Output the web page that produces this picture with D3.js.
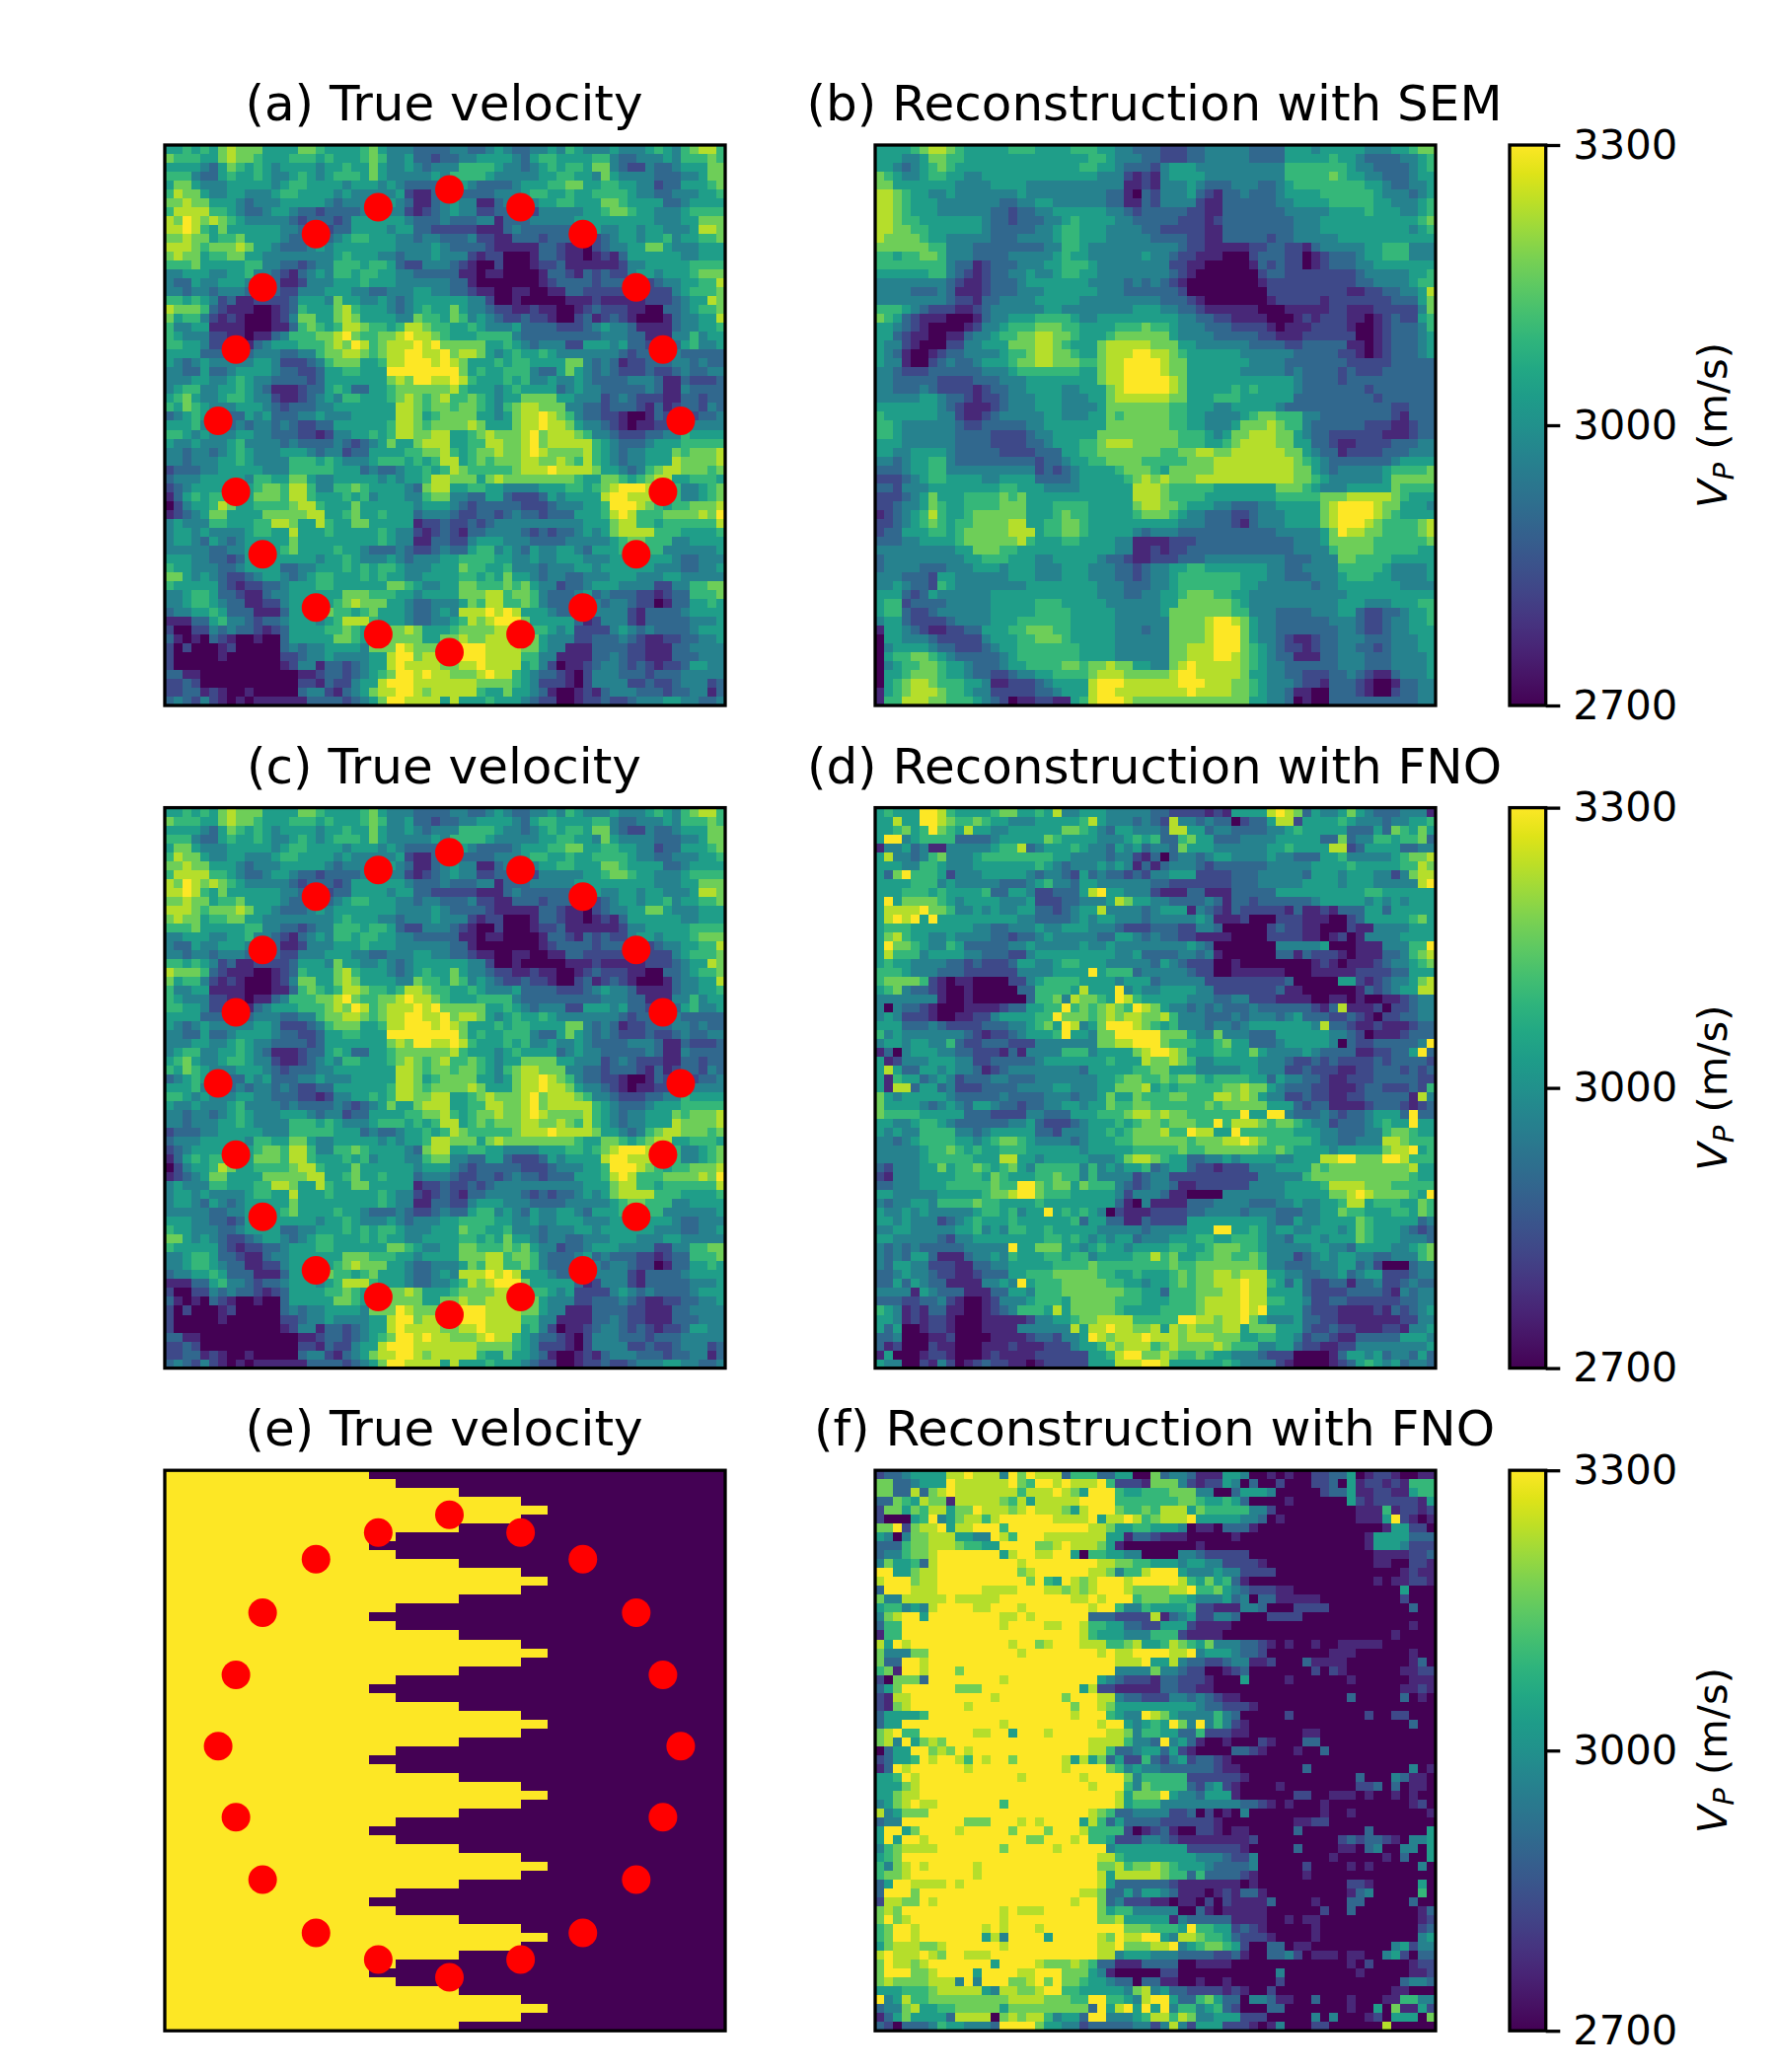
<!DOCTYPE html>
<html>
<head>
<meta charset="utf-8">
<script src="https://cdn.jsdelivr.net/npm/d3@7"></script>
<style>
  body { margin: 0; background: white; }
  text { font-family: "DejaVu Sans", sans-serif; fill: black; }
</style>
</head>
<body>
<div id="chart"></div>
<script>
// Velocity per cell, as levels 0-9 (0 = 2700 m/s, 9 = 3300 m/s)
const trueVelocityRows = [
"556565787 775555776 555567544 433334433 454334454 654445444 565467886",
"766655787 765556665 655567644 533233445 555435665 555664334 445466676",
"555543576 565455554 556557544 543444666 654434565 665774322 433455577",
"666433565 565445654 566657544 444546666 544444556 655475444 433344577",
"577544455 555456655 554555454 333334543 333455566 775566554 423355567",
"687754455 444566555 545444445 211333333 344456655 655666654 433444556",
"778775554 344455555 434444454 311345441 134444556 655577655 553345555",
"688886654 334554332 333344544 212345442 233332444 445567765 544456666",
"879878765 444443233 323555555 433343334 413334444 455555555 544455777",
"889865755 555544333 233555545 533222221 113433333 344544554 554445887",
"778775667 555543333 345665554 434433342 211333233 332234554 556455667",
"888767778 755433345 455555554 444543333 211111332 110234455 775444555",
"787756677 554444444 456555443 444544421 220001332 110121355 555544555",
"666755555 664433234 466656653 224443210 020001223 111111244 555556666",
"445554455 644321345 466566554 433333110 110000133 213232245 545556777",
"433544555 433311244 455565554 444443310 000000123 333233333 234455668",
"443443444 333322444 555443344 455443321 100110011 332222222 222456667",
"665654231 122223555 475544543 455555544 200100000 111211111 222345587",
"877763211 100123655 578655543 456557544 322112110 012322211 003345667",
"756642121 000124775 578755554 476657645 432232210 023123210 001344558",
"644551111 000113676 568876656 887665565 444533332 223454431 111344556",
"654442211 011346667 789766778 988765556 666433333 333344433 111446455",
"665542221 134555666 787986788 898977777 556543444 225554533 222356445",
"555533333 344433446 778876788 998897887 545655654 444444323 333433333",
"543454444 455422234 677755688 999898755 565665555 774343122 333443433",
"443353345 555433223 556655599 999999756 556664335 754343222 322343344",
"444554456 544333323 555555578 799889865 556564454 454333344 431132223",
"456644556 543111233 565335567 777778655 545655553 454433333 431143333",
"567544566 544211234 546655567 876786676 545577775 544423432 221133233",
"657654445 554323334 455555558 876776776 546788777 443323332 131233243",
"345654333 545333445 444555558 875677775 545788987 643322100 132222334",
"555644334 344343223 355555568 876777787 555788988 754432101 122224444",
"665454445 544333221 244556568 877885567 877789788 876443222 334465555",
"544544456 444434333 343234575 578885566 887789788 888654333 455566666",
"443443456 544455543 442335555 667786567 787789877 778654344 555767778",
"443444556 544446665 654445666 565688567 677788778 768654344 555877778",
"233344555 554446666 655534334 556568766 666788898 888755434 678877767",
"344455555 466557754 455555454 556887775 787777777 765577656 788556665",
"234555555 567768864 466765555 437885566 554444555 665678999 888644567",
"135656666 577768865 556564555 446774433 553222354 555589988 888644567",
"024556875 566667886 555755555 545554323 333322234 445569998 765667778",
"123457755 557777788 556755655 534443223 323433233 355568986 667777879",
"454446655 566887558 655775555 512232232 344444444 445557886 656666668",
"455454444 566558555 655555654 421232133 444432323 345457888 866655556",
"455435434 555557555 555555654 411332245 554443333 444445677 666445555",
"444443344 555567555 565543334 322343356 645435445 543555666 664444445",
"555443323 555555554 556544454 344455666 655445445 554445555 555433444",
"655444334 555533445 556565665 444555766 556444344 455455555 544433445",
"775454322 345543456 655565655 445555665 657554344 334445554 445544444",
"655555321 223345556 655555577 654455776 667675442 334555444 422446677",
"445665332 113445555 557776665 545555777 886776433 345343332 212336667",
"445665433 112245555 567877755 433444576 886676433 334434432 201335565",
"344556533 311135555 766567555 433454888 989855543 312444421 333345555",
"111335644 323345554 568886555 433445687 899975555 531244421 333334445",
"200224343 321235555 667657777 875556777 788886654 522224543 433334555",
"310103210 010035555 577657777 775577877 888887544 422333432 112233445",
"202000120 000034344 555547779 877778999 888877544 111333322 111334444",
"200000100 000022344 544445589 978888999 888866441 111334322 111333444",
"200000000 000012441 332345589 888877889 888856420 112344323 212235544",
"331100000 000000112 332345679 989887778 988654332 102444333 233344444",
"223200000 000000221 322455899 988888887 777654222 102444422 322344423",
"223312100 100000344 213457889 987888886 557554310 012134443 332334413",
"343242101 011111133 332345799 888858555 655543220 012232234 445544334"
];

const semRows = [
"555567887 655555666 555566655 443332223 344444333 355545555 544455677",
"555445776 655555555 555555665 444332223 344444333 355555655 433334456",
"554345676 555555555 555556655 433324555 444444444 466666665 443333456",
"765445665 544555555 555555544 421214555 544444444 466666765 544333455",
"775555555 444455554 444444444 411214445 433344433 456666666 655433445",
"887655445 444444454 444444443 310324445 321334333 455556666 665444345",
"887655544 444443344 554444443 311324444 211333333 445555666 665544456",
"887655544 444433233 445555554 432333332 211333333 344444555 565554456",
"887665555 555433233 344565555 443333322 212333333 334445555 555555567",
"887766555 555433333 445665554 444332222 211333333 334445555 555555456",
"877776554 444433344 445665554 444433332 211333332 334444455 555555555",
"777777664 443333333 344665444 444444432 211111223 322134444 455666444",
"665667764 443333444 445655444 444544322 111000233 322012333 455666444",
"666666664 331233344 455666544 444444221 100000132 322012333 445555555",
"555555664 321233445 445665544 444444321 000000023 322222222 344444556",
"444444443 211233345 555555444 434343210 000000012 222222222 334444566",
"444433343 111233344 455555544 433333320 000000002 222222221 122334458",
"444444443 221334444 555554444 444443332 100000001 222221222 222233357",
"666543222 112344444 455444444 445554433 211111100 011111221 112222247",
"765321110 001344555 666654455 555555544 332211110 001212221 101232256",
"554321000 012445666 777665555 666766544 433322221 011122221 001233346",
"553211001 134456677 887765556 777777544 443333322 111222222 001233345",
"544210002 244555777 887655578 888877755 444444333 322333331 101233345",
"543100123 344445667 887765578 889988765 555554444 443333322 101233345",
"544100234 334555677 887776678 899998775 555555444 433333332 222233333",
"443222333 333444566 666665578 899998775 555554444 434333323 222333333",
"443333322 223334445 555555578 899999875 555555555 554333323 333333333",
"443334322 221233445 555445557 899999875 555565655 554333333 323333333",
"444445543 321223444 555444557 888888775 556665555 553333333 332333333",
"555555543 211123444 555444457 777777665 554455555 433333333 333322333",
"655555544 211234444 455444557 677777665 544445677 666443333 333321333",
"665444444 322333334 455555557 777777665 544457778 766433333 322211233",
"665444444 333322223 445555577 777777766 654577888 775433222 222111233",
"555444444 333322223 345556678 887777766 655678888 775533211 222233344",
"554455554 333332222 333556677 777776677 887788888 877543312 222333444",
"443455664 333333333 233455667 777666667 778888888 887654333 333345555",
"333455664 444444444 232345555 677765777 778888888 887754344 444566667",
"222345665 555445555 333345555 567878777 888888888 887765444 444577777",
"332444555 555556655 544445555 558887666 665555555 777654445 555576666",
"222345755 566667675 555555555 558887666 655555555 666667778 888876555",
"223445765 566667775 556666555 557887765 554433344 555557899 998775554",
"123456865 567777775 556766555 556777654 433322344 455557899 998765555",
"223456765 667777885 566776555 555555544 433321344 455557899 987666678",
"233555665 677777888 566776555 554344433 333333333 444445798 877666678",
"333445555 677777786 555665555 441111222 333333333 334445777 776666667",
"444444444 557776655 555555555 441121223 333333333 334444677 776666655",
"344444444 455666555 445555543 321122233 344444444 433344477 666655555",
"344443334 445554555 444555444 332344556 655555554 433444466 666544445",
"444333255 444444555 444555444 332344566 666665554 433344456 665544445",
"445433265 444444445 555555544 433344566 666665544 444434455 555554444",
"555323544 444455555 555555544 433445567 776655444 444444445 555555555",
"566233334 444455555 666555554 444445577 777765444 444444455 544455566",
"566322344 444455555 666655555 444445777 777766444 333344455 322334556",
"455322223 444455566 666655555 444444777 789987544 333333444 322344556",
"155432112 233555667 776655555 444344777 789997544 333333344 322344555",
"055444322 222455566 777655555 444444777 789997544 321123344 433344455",
"045555433 222345566 666665555 444444778 889997654 322123344 332344455",
"056677654 333334566 666665555 444444778 889987654 331113344 433344445",
"045667765 543334556 666776778 775544789 888887654 433333344 433344445",
"055677765 543322344 556666788 877777899 888887554 433222334 321134445",
"056788766 655411222 345555899 988888899 988877654 443221333 210013344",
"156788876 654422222 334555899 888888889 888877654 431100333 210023344",
"166888776 665432011 221156899 987777777 777777554 430100333 333333344"
];

const fnoRows = [
"565559986 555567755 658445554 444433222 212155558 987354457 543334441",
"558559987 667655444 555556854 443432844 343302335 882555565 444344556",
"556756976 585544555 555776543 554443885 534433334 456555553 335376575",
"599456666 333345555 576555544 456563367 553334444 555553373 446656673",
"144534114 444456683 455565443 545344375 554444445 565555882 355553344",
"584434674 445666666 665544443 442130344 345544445 443335564 444456778",
"555446654 445555555 654344454 541313444 323333334 444455556 555556687",
"537966652 444555554 344325343 323244555 222233344 444355545 554424788",
"555566645 444443334 564435544 444433222 222233344 444555545 554444489",
"555666565 555633554 223335895 544421113 311133333 555555555 566555555",
"595777765 455554445 222334445 875544333 343133233 333345555 545454555",
"588889776 445454455 332345584 444345551 432132222 213112133 355355555",
"589895955 555555544 333345455 444344444 541112000 222111002 355555675",
"566655555 554433444 544555444 322233322 443000002 322110002 114444555",
"578655445 444433233 454444433 554343322 111100002 222110120 144445555",
"597765446 533333445 444445445 444444445 430000000 444445000 111444669",
"586664555 544333224 555555555 445333344 341000000 331322210 111334678",
"565544443 323222355 445665554 444435432 220010000 000012101 112344567",
"666544433 322222244 445555956 663444443 220011111 100011111 222233555",
"677776210 110000224 566665555 455534444 422222222 230000055 212344578",
"567433210 010000033 666658555 945445555 442222222 311000000 132345588",
"444444410 010000003 667487765 986555554 443344222 111100110 100112344",
"404332100 011112335 566967678 769875443 434333433 333321381 112022344",
"454222100 112245555 669777678 788778644 433343444 345333223 210223344",
"555333432 222333445 675984579 998765644 434434555 555548332 112111233",
"645444444 432122345 556955477 999997775 447444333 555555443 201112333",
"455455446 322333222 444444477 889997666 556755333 455555403 223333349",
"130455544 332221314 444666455 557899875 556655754 444543333 112233593",
"512444555 442233333 455555556 555877876 445555544 432232322 223233332",
"585335545 443123444 444443555 556677555 444445544 422322211 223332323",
"516553454 233344333 444444455 677667677 656666553 544332112 223333322",
"518835534 222333344 445544455 777856566 666778775 433322111 233222326",
"754555554 333334333 344434457 557666776 668878754 422322112 233333184",
"755554345 435543323 344554557 667766666 676777775 553233111 123332123",
"766665555 533322224 433355566 678878776 666669559 943334323 345553933",
"554456654 333333445 322234555 656776777 669688876 776544233 345655955",
"545446666 443455555 332444556 567778669 885596666 665554433 344677655",
"443456666 554567765 444434555 667777776 777889876 666654433 444887666",
"444445667 656556665 555554555 556666676 677777766 765555455 555788956",
"444445666 665558855 455555444 578876553 344545555 445558899 777998666",
"324445575 667656754 666664645 455634553 221222444 555576777 777777855",
"214445555 666576555 667664644 442344222 222222244 444677777 777777655",
"334445556 666676699 767757666 432344311 222222444 455556888 877766666",
"554444455 555677899 766655555 424443110 000444444 455555778 987777659",
"434455466 667665555 655555555 310411113 334444333 445445568 856665576",
"544545444 445665645 595656540 211122223 344443444 333445576 655566576",
"554544423 456555655 555563553 311322225 555555554 335445555 765555534",
"445544444 556454665 565555544 444344445 559955654 554455545 765554323",
"554444432 445555555 566565454 553444555 665566654 435554555 765554443",
"434343333 344444955 777554565 545555665 567776654 444455443 555544567",
"434355311 134454655 566566455 556686755 667766764 442345455 443344467",
"435544222 113344555 556666766 666666766 777777764 433344455 342000344",
"334544322 112333556 667777766 556555676 778878885 544334453 455222344",
"335354331 111445495 666777776 655455676 778889886 535322331 334223433",
"444415433 311133554 666777777 766553666 777889885 555322223 333214344",
"333223342 100124445 666577777 666555666 788889886 655422332 222223344",
"654121331 100123466 658577777 655556666 788889895 555322211 112132345",
"554121221 000111112 445567788 886666699 887889754 445332211 111112244",
"535001221 000111144 444485889 887785878 777885777 555322322 111221445",
"334000112 000011112 332445987 888988878 887775566 554233211 333335554",
"312000211 000111211 122245568 788867877 778766644 553221122 444444445",
"150001221 000121111 222222556 899778766 765544432 220000135 545344353",
"544002142 012322110 122222555 888998555 555654444 210000123 565453443"
];

const fnoStepRows = [
"233455558 898884979 888366633 550073443 111554001 010022335 012210011",
"773345559 888888976 998988896 222177742 122540300 200022305 122121666",
"773383789 888888868 889875999 655666777 440035554 000002335 112211566",
"337658771 888887685 888889999 666666677 655653000 010000005 212222215",
"277576885 779888789 888758999 766768885 766666442 000000000 111612212",
"200056945 788689999 998888958 898678889 555554430 100000000 111592101",
"779278895 889996999 999999887 556655540 110333100 000000000 000155220",
"540477888 554498699 988888885 513321110 000010000 000000000 015555333",
"333677888 766559999 778988875 100000000 100000000 000000000 015554222",
"344677899 999995899 889950665 544000044 322222000 000000000 001111223",
"475563899 999999989 999999988 776655545 544222210 000000000 001100221",
"995578899 999999978 999999887 466899954 445442222 000000000 000001211",
"899978899 999999997 965987899 989999986 575631000 000000000 001011221",
"399988899 999888899 988787899 987777889 667543222 110000000 000005000",
"744888889 888889999 999988989 996777665 444534033 111110000 000002000",
"566454899 998899989 999999899 644655556 221114430 002222000 000000300",
"478995999 999998898 999999333 222281345 224430002 222000000 000000000",
"366999999 999998999 988998665 533225552 111100000 000000000 000000100",
"166999999 999999999 999998655 544466621 111000000 000000000 000010000",
"859899999 999999899 789998886 678556876 574443321 010010011 111000000",
"744477999 999999989 999999989 889999889 455543320 000000111 000000100",
"733998999 999999999 999999999 888955843 322344112 000311110 000000130",
"671998999 799999999 999999999 444474432 200123000 000020210 000001122",
"207773999 999998999 999999954 322213322 210005000 010000001 000000111",
"357999999 777999999 999995822 111113322 110000000 000000000 000001121",
"218899999 999989999 999799988 433222443 432110000 000000003 000003010",
"217899999 989999999 999979987 555555555 433222100 000000000 000000000",
"355556999 999999999 999989996 544987544 446430000 020000000 020022000",
"355999999 999998999 999999989 954565974 946421000 000000000 000000300",
"789669999 998899599 989999998 874665533 622211000 000110000 000000000",
"784957879 999999999 999999888 864439453 100100021 000330000 000000000",
"035599787 989999999 999999886 334553521 000033210 001003000 000000000",
"235569899 869899799 999858573 522632452 332100000 000000000 000000000",
"139899999 989999999 999899997 645443333 332110000 000300000 000000401",
"556989999 999999989 999998999 974666662 222221000 000000000 300043110",
"555789999 999999999 999999899 964766663 245210000 100000000 223030110",
"557889999 999999999 999999999 857779544 355510000 002200111 010010100",
"457898899 999996999 999999999 856664444 444443321 010001000 000000120",
"845777999 999999999 999999876 334444223 020104000 000001001 000000001",
"344999999 977799989 899995863 533332222 221000000 001122000 000000000",
"599579999 899999799 979998666 620123100 221011000 003000000 030000005",
"595998999 999999997 799989665 222443211 111111200 000000023 233210445",
"467888899 999997999 998999994 555555552 222221000 003000011 034004405",
"567999999 999999999 999999988 655555555 444322400 000000100 000103005",
"647898999 998999999 999999977 867787655 543333400 000200001 010000040",
"677899999 998999999 999999985 888887663 633332100 000100000 000000000",
"359988889 899999999 999999985 333333211 111110100 000000002 210000050",
"399979999 999999999 999998873 353554311 101213310 000000001 340000060",
"288779899 999999999 999989973 422211011 020211113 000010003 300000300",
"787999999 999998988 899999975 664444400 310111110 000002003 000000013",
"797899999 999998999 999999977 855555143 333311110 010110000 000000012",
"679989999 999898999 899999999 977766659 665523210 000010000 000000023",
"679989999 999584999 959999987 988995488 766532221 000010000 000000045",
"578887789 999998999 999999988 977788945 677652003 301100000 000045244",
"898889879 988899999 999999988 455544433 332231003 342011101 100452033",
"798878999 999959999 877787633 111333300 111100000 000000001 020000122",
"799977899 995999988 999777541 000002200 000000000 400000000 100000112",
"787777888 494999778 979776554 330331100 100100000 200000000 000003443",
"555666788 888548877 899665555 547845332 222121002 000000000 000011000",
"945866777 777777888 877766996 654899533 675330443 110030001 000116644",
"344785566 777775777 777777395 895959466 456320003 300000001 005071152",
"135755553 888807878 864553994 445688687 445552220 000040400 012055507",
"320333465 544439999 755442333 334424842 555222101 400022000 000800000"
];

// Panel (e): how many cells of each row are fast (3300), the rest are slow (2700)
const stepFastCells = [
23,26,33,40,43,40,33,26, 23,26,33,40,43,40,33,26, 23,26,33,40,43,40,33,26,
23,26,33,40,43,40,33,26, 23,26,33,40,43,40,33,26, 23,26,33,40,43,40,33,26,
23,26,33,40,43,40,33,26, 23,26,33,40,43,40,33
];

// Receivers, in cell units from the top left corner of the image
const receiverX = [32,40,47,53,56,58,56,53,47,40,32,24,17,11,8,6,8,11,17,24];
const receiverY = [5,7,10,16,23,31,39,46,52,55,57,55,52,46,39,31,23,16,10,7];

const panelTitles = ["(a) True velocity", "(b) Reconstruction with SEM", "(c) True velocity",
    "(d) Reconstruction with FNO", "(e) True velocity", "(f) Reconstruction with FNO"];
const colorbarTicks = [2700, 3000, 3300];

const gridSize = 63;
const panelSize = 568;
const columnLeft = [167, 887];
const rowTop = [147, 818.6, 1490.2];
const colorbarLeft = 1530;
const colorbarWidth = 36.7;

const svg = d3.select("#chart").append("svg")
    .attr("width", 1800)
    .attr("height", 2100);

const color = d3.scaleSequential(d3.interpolateViridis).domain([2700, 3300]);
const levelToVelocity = d3.scaleLinear().domain([0, 9]).range([2700, 3300]);

function parseRows(rows) {
    return rows.map(row => row.replace(/ /g, "").split("").map(d => levelToVelocity(+d)));
}

function stepRowsToCells(fastCells) {
    return fastCells.map(n => d3.range(gridSize).map(c => c < n ? 3300 : 2700));
}

function drawPanel(col, row, title, values, showReceivers) {
    const x = d3.scaleLinear().domain([0, gridSize]).range([columnLeft[col], columnLeft[col] + panelSize]);
    const y = d3.scaleLinear().domain([0, gridSize]).range([rowTop[row], rowTop[row] + panelSize]);
    const g = svg.append("g");

    g.append("g").selectAll("g")
        .data(values)
        .enter()
        .append("g")
        .selectAll("rect")
        .data((d, r) => d.map((v, c) => ({ v, c, r })))
        .enter()
        .append("rect")
        .attr("x", d => x(d.c))
        .attr("y", d => y(d.r))
        .attr("width", d => x(d.c + 1) - x(d.c))
        .attr("height", d => y(d.r + 1) - y(d.r))
        .attr("fill", d => color(d.v))
        .attr("shape-rendering", "crispEdges");

    if (showReceivers) {
        g.selectAll("circle")
            .data(receiverX.map((d, i) => [d, receiverY[i]]))
            .enter()
            .append("circle")
            .attr("cx", d => x(d[0]))
            .attr("cy", d => y(d[1]))
            .attr("r", 14.5)
            .attr("fill", "#ff0000");
    }

    // axes frame
    g.append("rect")
        .attr("x", columnLeft[col])
        .attr("y", rowTop[row])
        .attr("width", panelSize)
        .attr("height", panelSize)
        .attr("fill", "none")
        .attr("stroke", "black")
        .attr("stroke-width", 3.3);

    g.append("text")
        .attr("x", columnLeft[col] + panelSize / 2 - 1)
        .attr("y", rowTop[row] - 25)
        .attr("text-anchor", "middle")
        .style("font-size", "50px")
        .text(title);
}

function drawColorbar(row) {
    const y = d3.scaleLinear().domain([2700, 3300]).range([rowTop[row] + panelSize, rowTop[row]]);
    const gradientId = `viridis-${row}`;
    const gradient = svg.append("defs").append("linearGradient")
        .attr("id", gradientId)
        .attr("x1", 0).attr("x2", 0).attr("y1", 1).attr("y2", 0);
    gradient.selectAll("stop")
        .data(d3.range(0, 21))
        .enter()
        .append("stop")
        .attr("offset", d => d / 20)
        .attr("stop-color", d => d3.interpolateViridis(d / 20));

    svg.append("rect")
        .attr("x", colorbarLeft)
        .attr("y", rowTop[row])
        .attr("width", colorbarWidth)
        .attr("height", panelSize)
        .attr("fill", `url(#${gradientId})`)
        .attr("stroke", "black")
        .attr("stroke-width", 3.3);

    const axis = svg.append("g")
        .attr("transform", `translate(${colorbarLeft + colorbarWidth},0)`)
        .call(d3.axisRight(y).tickValues(colorbarTicks).tickSize(14.6).tickPadding(13).tickFormat(d3.format("d")));
    axis.select(".domain").remove();
    axis.selectAll("line").attr("stroke", "black").attr("stroke-width", 3.3);
    axis.selectAll("text").style("font-size", "41.7px").style("font-family", '"DejaVu Sans", sans-serif');

    // V_P label, the P is a subscript
    const label = svg.append("text")
        .attr("transform", `translate(1750,${rowTop[row] + panelSize / 2}) rotate(-90)`)
        .attr("text-anchor", "middle")
        .style("font-size", "41.7px");
    label.append("tspan").style("font-style", "italic").text("V");
    label.append("tspan").style("font-style", "italic").style("font-size", "29px").attr("dy", 7).text("P");
    label.append("tspan").attr("dy", -7).text(" (m/s)");
}

const trueCells = parseRows(trueVelocityRows);

drawPanel(0, 0, panelTitles[0], trueCells, true);
drawPanel(1, 0, panelTitles[1], parseRows(semRows), false);
drawPanel(0, 1, panelTitles[2], trueCells, true);
drawPanel(1, 1, panelTitles[3], parseRows(fnoRows), false);
drawPanel(0, 2, panelTitles[4], stepRowsToCells(stepFastCells), true);
drawPanel(1, 2, panelTitles[5], parseRows(fnoStepRows), false);

drawColorbar(0);
drawColorbar(1);
drawColorbar(2);
</script>
</body>
</html>
